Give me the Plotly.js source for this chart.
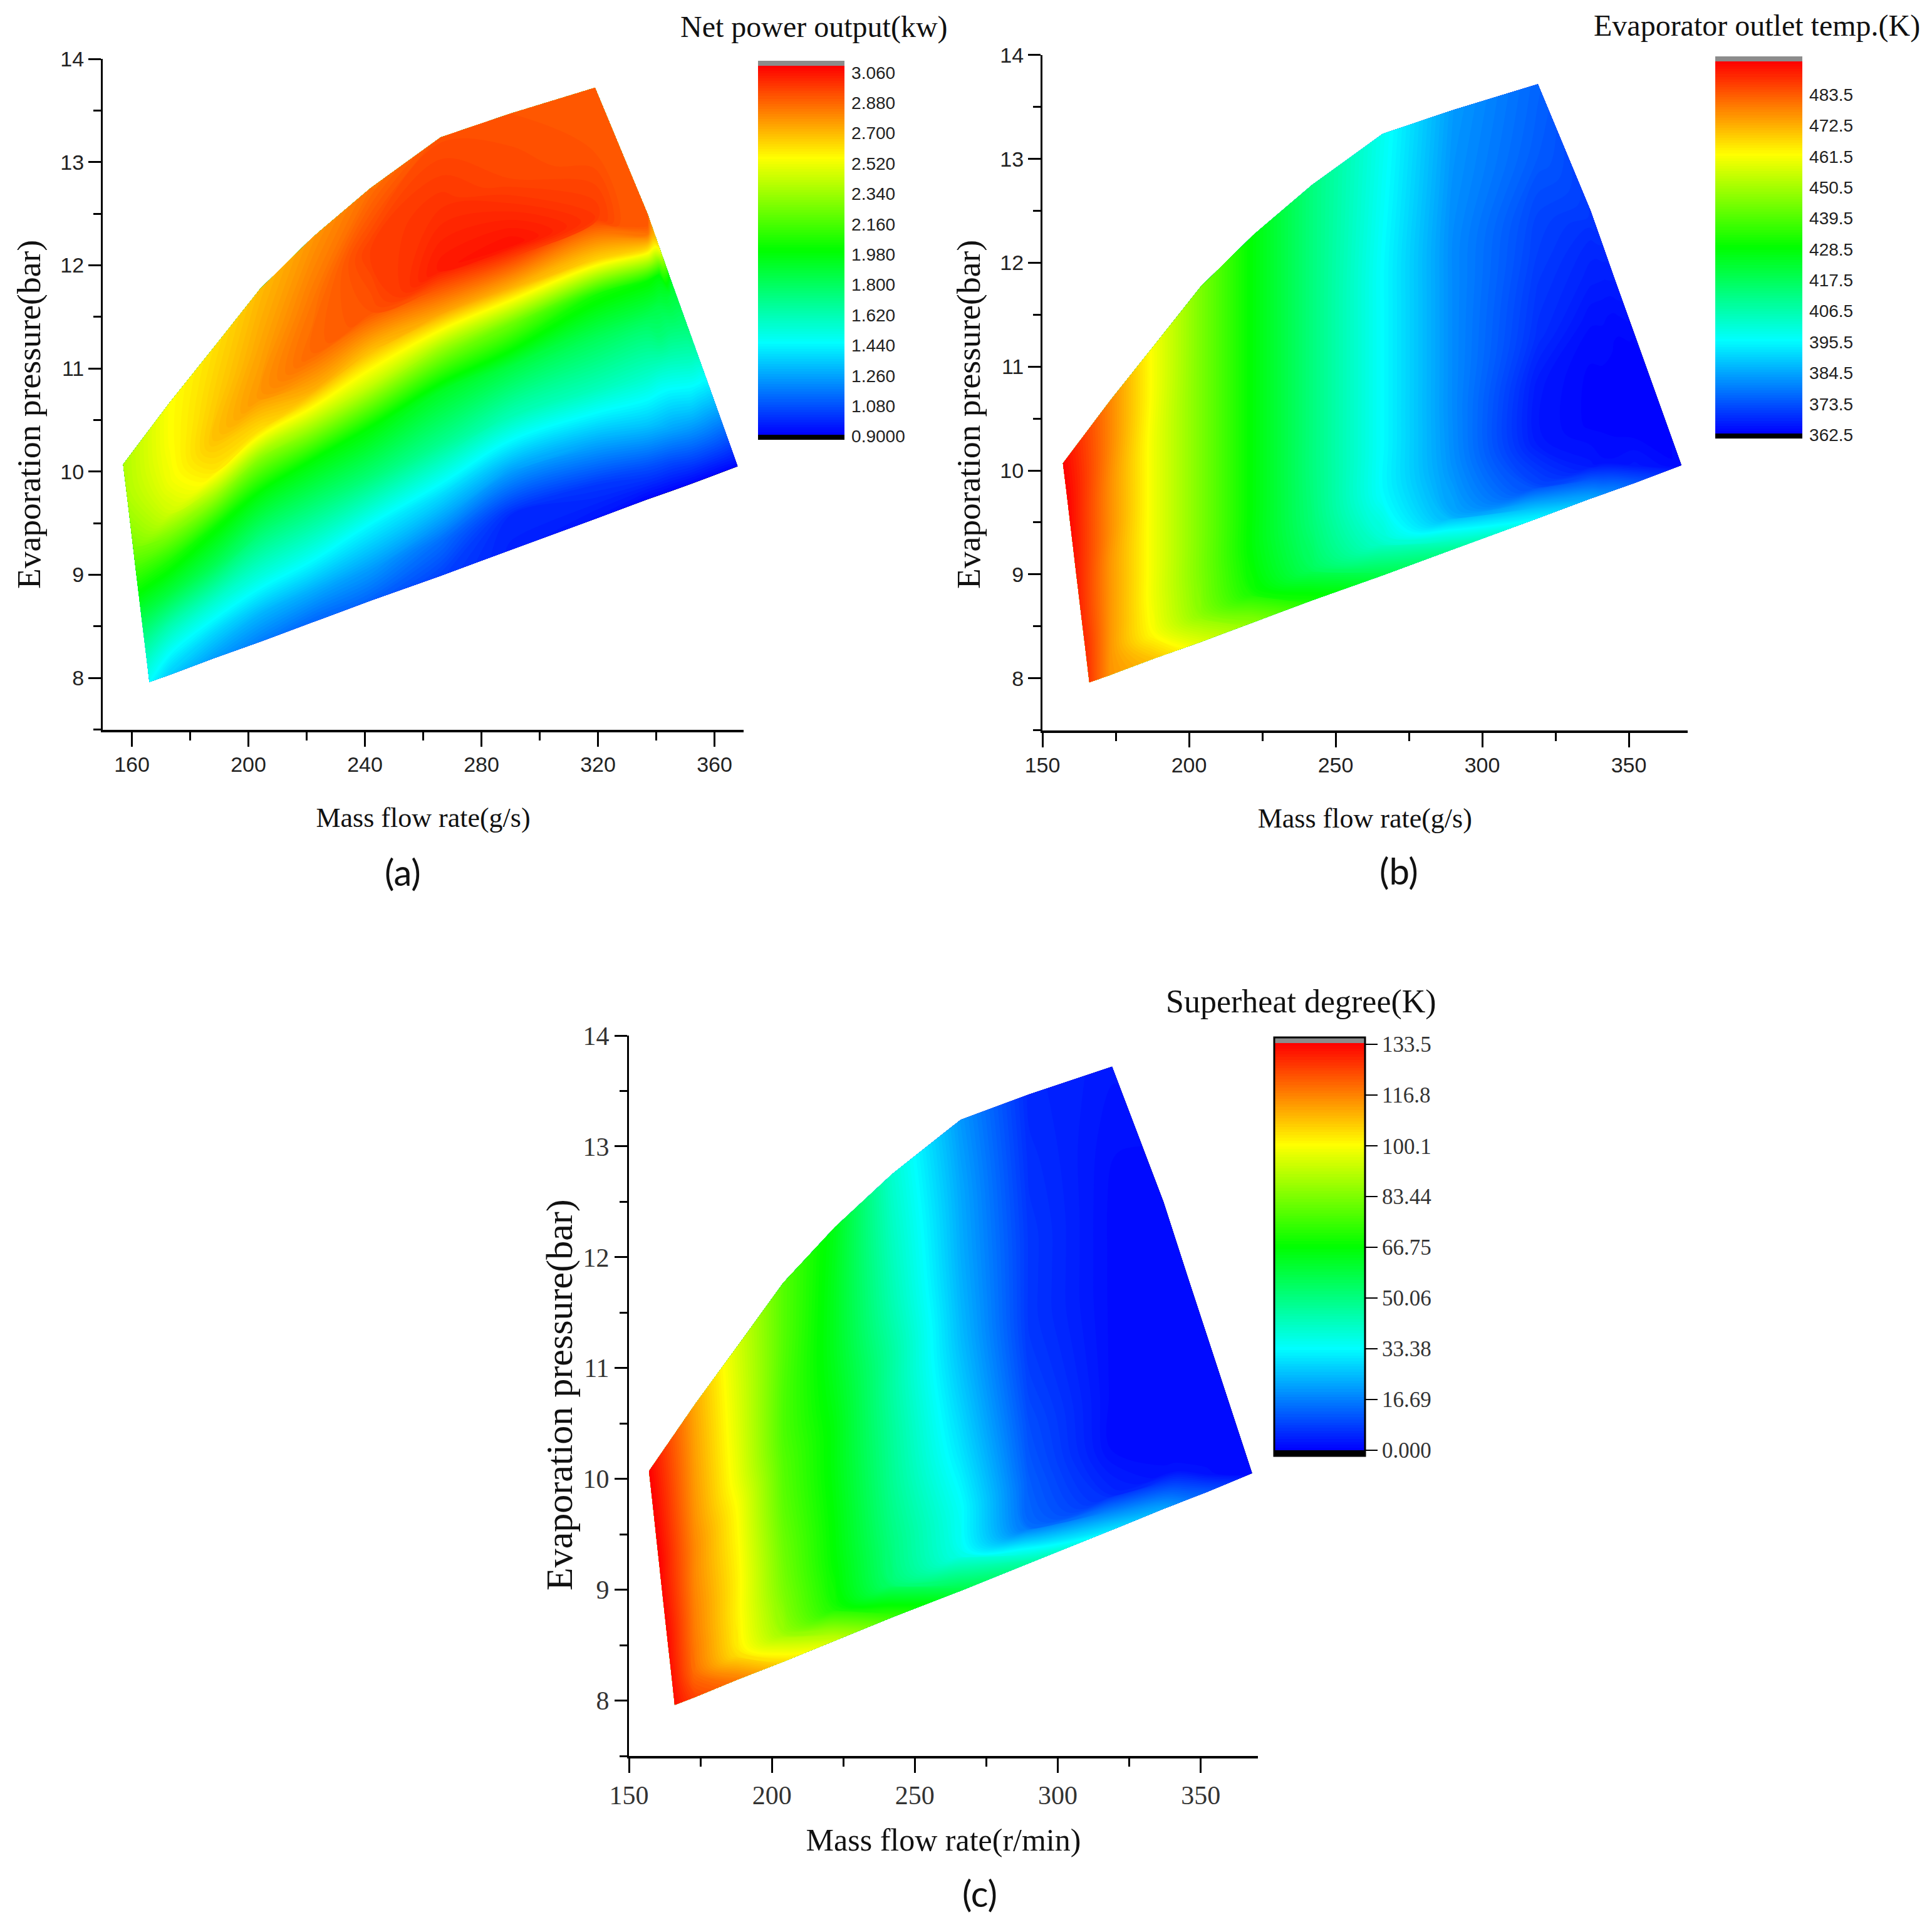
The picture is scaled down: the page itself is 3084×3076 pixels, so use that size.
<!DOCTYPE html>
<html>
<head>
<meta charset="utf-8">
<script src="https://cdn.plot.ly/plotly-3.0.1.min.js"></script>
<style>html,body{margin:0;padding:0;background:#fff}#chart{width:3084px;height:3076px}</style>
</head>
<body>
<div id="chart"></div>
<script>
// ---- grid nodes (one inner array per mass-flow column, bottom edge to top edge)
const columnIndex = [0,1,2,3,4,5,6,7,8,9,10,11,12,13];
const rowIndex = [0,1,2,3,4,5,6,7,8,9];
const massFlow = [
 [166,165.3,164.4,163.3,162.2,161.3,160.6,159.7,158.4,157],
 [173,173,173,173,173,173,173,173,173,173],
 [188,188,188,188,188,188,188,188,188,188],
 [204,204,204,204,204,204,204,204,204,204],
 [222,222,222,222,222,222,222,222,222,222],
 [242,242,242,242,242,242,242,242,242,242],
 [266,266,266,266,266,266,266,266,266,266],
 [290,290,290,290,290,290,290,290,290,290],
 [319,319,319,319,319,319,319,319,319,319],
 [337,337,337,337,337,337,337,337,337,337],
 [341,341,341,341,341,341,341,341,341,341],
 [345,345,345,345,345,345,345,345,345,345],
 [352,352,352,352,352,352,352,352,352,352],
 [368,368,368,368,368,368,368,368,368,368]
];
const pressure = [
 [7.96,8.13,8.34,8.59,8.85,9.06,9.23,9.44,9.75,10.07],
 [8.03,8.24,8.51,8.82,9.14,9.40,9.61,9.88,10.27,10.67],
 [8.19,8.43,8.73,9.09,9.45,9.76,10.0,10.30,10.75,11.20],
 [8.35,8.62,8.97,9.38,9.79,10.13,10.40,10.74,11.26,11.77],
 [8.54,8.84,9.21,9.66,10.11,10.48,10.78,11.15,11.71,12.27],
 [8.75,9.07,9.47,9.95,10.43,10.83,11.15,11.55,12.15,12.75],
 [8.99,9.33,9.76,10.27,10.78,11.20,11.54,11.97,12.60,13.24],
 [9.24,9.58,10.0,10.51,11.02,11.44,11.78,12.20,12.84,13.47],
 [9.54,9.87,10.29,10.79,11.30,11.71,12.05,12.47,13.09,13.72],
 [9.73,10.05,10.45,10.90,11.45,11.85,12.15,12.30,12.40,12.50],
 [9.77,10.08,10.45,10.85,11.30,11.60,11.90,12.00,12.10,12.18],
 [9.81,10.08,10.40,10.75,11.10,11.35,11.55,11.70,11.80,11.86],
 [9.88,10.05,10.35,10.60,10.85,11.05,11.15,11.20,11.25,11.31],
 [10.05,10.05,10.05,10.05,10.05,10.05,10.05,10.05,10.05,10.05]
];
const netPower = [
 [1.46,1.55,1.68,1.85,2.02,2.15,2.25,2.32,2.38,2.38],
 [1.35,1.46,1.63,1.87,2.07,2.28,2.45,2.52,2.55,2.55],
 [1.25,1.37,1.56,1.83,2.03,2.35,2.60,2.68,2.65,2.62],
 [1.18,1.30,1.52,1.75,1.99,2.30,2.62,2.78,2.74,2.70],
 [1.13,1.28,1.50,1.75,2.00,2.40,2.72,2.88,2.84,2.78],
 [1.12,1.25,1.44,1.75,2.00,2.42,2.68,2.92,2.97,2.86],
 [1.05,1.15,1.38,1.70,1.93,2.35,2.75,3.05,2.99,2.93],
 [0.98,1.00,1.25,1.60,1.87,2.25,2.72,3.07,2.95,2.92],
 [0.95,1.03,1.28,1.60,1.82,2.05,2.65,2.98,2.92,2.92],
 [0.92,1.08,1.33,1.56,1.80,2.02,2.62,2.85,2.92,2.90],
 [0.92,1.08,1.31,1.50,1.75,1.85,2.00,2.20,2.42,2.60],
 [0.92,1.06,1.26,1.43,1.62,1.74,1.83,1.88,1.91,1.93],
 [0.92,1.02,1.20,1.34,1.47,1.58,1.63,1.66,1.69,1.72],
 [0.92,0.92,0.92,0.92,0.92,0.92,0.92,0.92,0.92,0.92]
];
const outletTemp = [
 [488,489,490,490,491,492,493,494,495,495],
 [476,476,476,476,476,477,477,477,478,478],
 [470,462,460,460,460,460,460,460,461,461],
 [458,447,445,445,445,445,445,445,445,445],
 [447,431,428,428,428,428,428,428,428,428],
 [432,417,414,413,413,413,413,413,413,413],
 [420,402,396,396,396,396,396,396,397,398],
 [410,385,382,381,381,381,381,381,382,383],
 [395,372,366,366,369,370,371,372,375,376],
 [385,366,363.6,363.6,365,367,368,369,370,370],
 [382,365,363.6,363.6,364.5,365.5,367,367.5,368,368.5],
 [380,365,363.6,363.6,363.8,364,365,366,366.5,367],
 [375,366,363.6,363.6,363.6,363.6,363.6,363.6,364,364],
 [364,364,364,364,364,364,364,364,364,364]
];
const superheat = [
 [132,132,132,133,133,133,134,134,134,134],
 [125,120,118,117,116,116,115,114,113,112],
 [118,104,102,102,101,100,98,97,96,95],
 [105,87,83,81,79,78,77,77,78,78],
 [94,70,67,66,65,65,64,63,63,64],
 [75,52,50,48,47,46,46,44,42,40],
 [58,36,34,30,27,25,24,23,22,20],
 [46,14,12,10,8,7,7,7,6,5],
 [30,5,1.5,1.5,1.5,1.5,1.5,1.5,2,3],
 [22,2,1,1,1,1,1,1,1,1],
 [19,2,1,1,1,1,1,1,1,1],
 [16,2,1,1,1,1,1,1,1,1],
 [12,2,1,1,1,1,1,1,1,1],
 [1,1,1,1,1,1,1,1,1,1]
];
const powerTicks = [0.9,1.08,1.26,1.44,1.62,1.8,1.98,2.16,2.34,2.52,2.7,2.88,3.06];
const powerLabels = ['0.9000','1.080','1.260','1.440','1.620','1.800','1.980','2.160','2.340','2.520','2.700','2.880','3.060'];
const tempTicks = [362.5,373.5,384.5,395.5,406.5,417.5,428.5,439.5,450.5,461.5,472.5,483.5];
const tempLabels = ['362.5','373.5','384.5','395.5','406.5','417.5','428.5','439.5','450.5','461.5','472.5','483.5'];
const heatTicks = [0,16.69,33.38,50.06,66.75,83.44,100.1,116.8,133.5];
const heatLabels = ['0.000','16.69','33.38','50.06','66.75','83.44','100.1','116.8','133.5'];

const W = 3084, H = 3076;
const fx = p => p / W, fy = p => 1 - p / H;
const byRow = t => rowIndex.map((_, r) => columnIndex.map(c => t[c][r]));

const sans = 'Liberation Sans, Arial, sans-serif';
const serif = 'Liberation Serif, Times New Roman, serif';
const LEVELS = 150, CAP = 2;

// rainbow between a black cap at the bottom and a grey cap on top
function scale() {
  const a = CAP / LEVELS, b = 1 - a, q = (b - a) / 4;
  return [[0,'#000000'],[a,'#000000'],[a,'#0000ff'],[a+q,'#00ffff'],[a+2*q,'#00ff00'],[a+3*q,'#ffff00'],[b,'#ff0000'],[b,'#8c8c8c'],[1,'#8c8c8c']];
}

const panels = [
 {id:'',  box:[164,94,1187,1164.6], z:netPower, start:0.88, end:3.13,
  cb:[1209.6,97,1347.7,702], ticks:powerTicks, labels:powerLabels, cbFont:{family:sans,size:28,color:'#222'}, outline:0, tickLen:6, tickColor:'rgba(0,0,0,0)',
  xTick0:160, xD:40, xMinor:20, tickFont:{family:sans,size:34,color:'#222'},
  xTitle:'Mass flow rate(g/s)', xSize:44, xStand:52},
 {id:'2', box:[1664,87.8,2693.6,1165.6], z:outletTemp, start:361.2, end:497.1,
  cb:[2737.5,90,2876.5,700], ticks:tempTicks, labels:tempLabels, cbFont:{family:sans,size:28,color:'#222'}, outline:0, tickLen:6, tickColor:'rgba(0,0,0,0)',
  xTick0:150, xD:50, xMinor:25, tickFont:{family:sans,size:34,color:'#222'},
  xTitle:'Mass flow rate(g/s)', xSize:44, xStand:52},
 {id:'3', box:[1004,1653,2008,2803], z:superheat, start:-1.85, end:135.8,
  cb:[2034,1656,2179,2324], ticks:heatTicks, labels:heatLabels, cbFont:{family:serif,size:35,color:'#333'}, outline:3, tickLen:19, tickColor:'#000',
  xTick0:150, xD:50, xMinor:25, tickFont:{family:serif,size:42,color:'#333'},
  xTitle:'Mass flow rate(r/min)', xSize:50, xStand:32}
];

const traces = [], layout = {
  width:W, height:H, margin:{l:0,r:0,t:0,b:0,autoexpand:false},
  paper_bgcolor:'#fff', plot_bgcolor:'#fff', showlegend:false, annotations:[]
};

panels.forEach(p => {
  const xn = 'xaxis'+p.id, yn = 'yaxis'+p.id, xr = 'x'+p.id, yr = 'y'+p.id, cid = 'carpet'+(p.id||'1');
  traces.push({
    type:'carpet', carpet:cid, xaxis:xr, yaxis:yr,
    a:columnIndex, b:rowIndex, x:byRow(massFlow), y:byRow(pressure),
    aaxis:{smoothing:0, showgrid:false, showline:false, startline:false, endline:false, showticklabels:'none', minorgridcount:0, tickmode:'array', tickvals:[], title:{text:''}},
    baxis:{smoothing:0, showgrid:false, showline:false, startline:false, endline:false, showticklabels:'none', minorgridcount:0, tickmode:'array', tickvals:[], title:{text:''}},
    hoverinfo:'skip'
  });
  const c = p.cb, size = (p.end - p.start) / LEVELS;
  traces.push({
    type:'contourcarpet', carpet:cid, xaxis:xr, yaxis:yr,
    a:columnIndex, b:rowIndex, z:byRow(p.z),
    autocontour:false,
    contours:{start:p.start, end:p.end, size:size, coloring:'fill', showlines:false},
    line:{width:0},
    colorscale:scale(), zauto:false, zmin:p.start, zmax:p.end,
    colorbar:{
      x:fx(c[0]), xanchor:'left', xpad:0,
      y:fy(c[3]), yanchor:'bottom', ypad:0,
      len:(c[3]-c[1])/H, lenmode:'fraction',
      thickness:c[2]-c[0], thicknessmode:'pixels',
      outlinewidth:p.outline, outlinecolor:'#000', borderwidth:0,
      tickmode:'array', tickvals:p.ticks, ticktext:p.labels,
      ticks:'outside', ticklen:p.tickLen, tickwidth:2, tickcolor:p.tickColor,
      tickfont:p.cbFont
    }
  });
  const b = p.box;
  layout[xn] = {
    domain:[fx(b[0]), fx(b[2])], range:[150,370], anchor:yr, side:'bottom',
    showgrid:false, zeroline:false, showline:true, linecolor:'#000', linewidth:4,
    ticks:'outside', ticklen:23, tickwidth:3, tickcolor:'#000',
    tick0:p.xTick0, dtick:p.xD, tickfont:p.tickFont,
    minor:{ticks:'outside', tick0:p.xTick0, dtick:p.xMinor, ticklen:13, tickwidth:3, tickcolor:'#000', showgrid:false},
    title:{text:p.xTitle, font:{family:serif,size:p.xSize,color:'#111'}, standoff:p.xStand}
  };
  layout[yn] = {
    domain:[fy(b[3]), fy(b[1])], range:[7.5,14], anchor:xr, side:'left',
    showgrid:false, zeroline:false, showline:true, linecolor:'#000', linewidth:3,
    ticks:'outside', ticklen:20, tickwidth:3, tickcolor:'#000',
    tick0:8, dtick:1, tickfont:p.tickFont,
    minor:{ticks:'outside', tick0:7.5, dtick:0.5, ticklen:12, tickwidth:3, tickcolor:'#000', showgrid:false}
  };
});

const notes = [
 ['Net power output(kw)',1299,43,serif,48,0],
 ['Evaporator outlet temp.(K)',2804,41,serif,48,0],
 ['Superheat degree(K)',2077,1599,serif,52,0],
 ['Evaporation pressure(bar)',46,662,serif,53.5,-90],
 ['Evaporation pressure(bar)',1546,662,serif,53.5,-90],
 ['Evaporation pressure(bar)',893,2227,serif,60,-90],
 ['(a)',643,1391,'Lato, sans-serif',58,0],
 ['(b)',2233,1389,'Lato, sans-serif',58,0],
 ['(c)',1564,3021,'Lato, sans-serif',58,0]
];
notes.forEach(n => layout.annotations.push({
  text:n[0], xref:'paper', yref:'paper', x:fx(n[1]), y:fy(n[2]),
  xanchor:'center', yanchor:'middle', showarrow:false, textangle:n[5],
  font:{family:n[3], size:n[4], color:'#111'}
}));

Plotly.newPlot('chart', traces, layout, {displayModeBar:false, staticPlot:true});
</script>
</body>
</html>
